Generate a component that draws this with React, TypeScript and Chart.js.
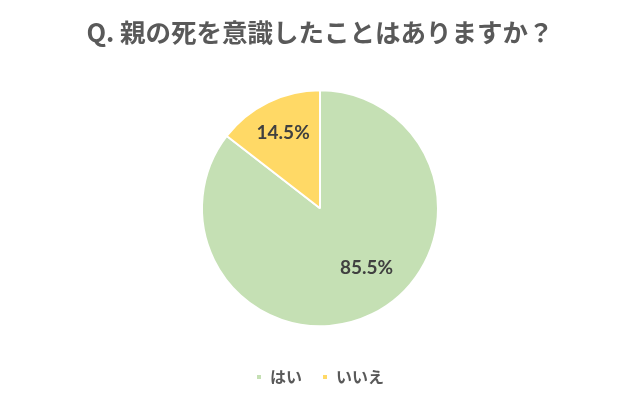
import React, { useEffect, useRef } from "react";
import { Chart, registerables } from "chart.js";

Chart.register(...registerables);

const titleText = "Q. 親の死を意識したことはありますか？";
const categories = ["はい", "いいえ"];
const values = [85.5, 14.5];
const colors = ["#C5E0B4", "#FFD966"];
const labelFrac = [0.64, 0.71];
const labelAngleShift = [-12, 0];

const labelPlugin = {
  id: "sliceLabels",
  afterDatasetsDraw(chart: any) {
    const { ctx } = chart;
    const meta = chart.getDatasetMeta(0);
    ctx.save();
    ctx.font = "bold 19px Lato, 'Noto Sans', sans-serif";
    ctx.fillStyle = "#404040";
    ctx.textAlign = "center";
    ctx.textBaseline = "middle";
    meta.data.forEach((arc: any, i: number) => {
      const p = arc.getProps(["x", "y", "startAngle", "endAngle", "outerRadius"], true);
      const mid = (p.startAngle + p.endAngle) / 2 + (labelAngleShift[i] * Math.PI) / 180;
      const r = p.outerRadius * labelFrac[i];
      const x = p.x + Math.cos(mid) * r;
      const y = p.y + Math.sin(mid) * r;
      ctx.fillText(values[i].toFixed(1) + "%", x, y);
    });
    ctx.restore();
  },
};

export default function App() {
  const ref = useRef<HTMLCanvasElement>(null);
  useEffect(() => {
    document.body.style.margin = "0";
    const chart = new Chart(ref.current!, {
      type: "pie",
      data: {
        labels: categories,
        datasets: [
          {
            data: values,
            backgroundColor: colors,
            borderColor: "#ffffff",
            borderWidth: 2,
            radius: 118,
          },
        ],
      },
      options: {
        animation: false,
        responsive: false,
        layout: { padding: { bottom: 6 } },
        plugins: {
          title: {
            display: true,
            text: titleText,
            color: "#595959",
            font: { size: 25.5, weight: "bold", family: "'Noto Sans CJK JP', sans-serif" },
            padding: { top: 17, bottom: 20 },
          },
          legend: {
            position: "bottom",
            labels: {
              boxWidth: 6,
              boxHeight: 6,
              padding: 20,
              color: "#595959",
              font: { size: 16, weight: "bold", family: "'Noto Sans CJK JP', sans-serif" },
            },
          },
          tooltip: { enabled: false },
        },
      },
      plugins: [labelPlugin],
    });
    return () => chart.destroy();
  }, []);
  return (
    <div style={{ width: 640, height: 401, background: "#fff" }}>
      <canvas ref={ref} width={640} height={401} />
    </div>
  );
}
